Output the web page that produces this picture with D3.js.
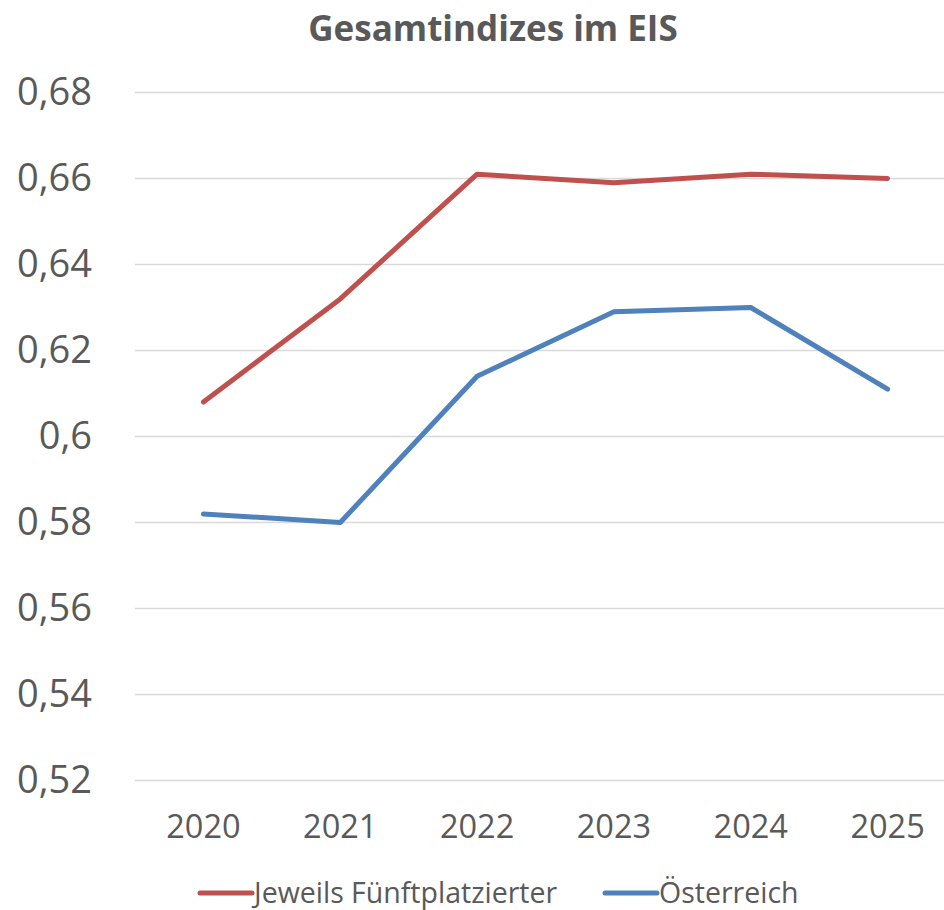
<!DOCTYPE html>
<html>
<head>
<meta charset="utf-8">
<script src="https://cdn.jsdelivr.net/npm/d3@7"></script>
<style>
	body { margin: 0; background: #fff; }
	text { font-family: "Open Sans", sans-serif; fill: #595959; }
</style>
</head>
<body>
<div id="chart"></div>
<script>
// data
var years = ["2020", "2021", "2022", "2023", "2024", "2025"];
var fuenftplatzierter = [0.608, 0.632, 0.661, 0.659, 0.661, 0.660];
var oesterreich = [0.582, 0.580, 0.614, 0.629, 0.630, 0.611];
var yTicks = [0.52, 0.54, 0.56, 0.58, 0.60, 0.62, 0.64, 0.66, 0.68];

var seriesList = [
	{ name: "Jeweils Fünftplatzierter", values: fuenftplatzierter, color: "#C0504D" },
	{ name: "Österreich", values: oesterreich, color: "#4F81BD" }
];

(function() {
	var width = 944, height = 910;

	var svg = d3.select("#chart")
		.append("svg")
		.attr("width", width)
		.attr("height", height)

	var plotLeft = 135, plotRight = 956;

	var x = d3.scaleBand().domain(years).range([plotLeft, plotRight])
	var y = d3.scaleLinear().domain([0.52, 0.68]).range([780.5, 92.5])

	// title
	svg.append("text")
		.attr("x", 493)
		.attr("y", 41)
		.attr("text-anchor", "middle")
		.attr("font-size", 35)
		.attr("font-weight", "bold")
		.text("Gesamtindizes im EIS")

	// gridlines
	svg.append("g")
		.selectAll("line")
		.data(yTicks)
		.enter().append("line")
		.attr("x1", plotLeft)
		.attr("x2", width)
		.attr("y1", function(d) { return y(d) })
		.attr("y2", function(d) { return y(d) })
		.attr("stroke", "#d9d9d9")
		.attr("stroke-width", 1.5)

	// y axis labels, german decimal comma
	var fmt = function(d) {
		return d3.format(".2f")(d).replace(/0$/, "").replace(".", ",")
	}
	var yAxis = d3.axisLeft(y).tickValues(yTicks).tickFormat(fmt).tickSize(0).tickPadding(0)
	var gy = svg.append("g")
		.attr("transform", "translate(92,0)")
		.call(yAxis)
	gy.select(".domain").remove()
	gy.selectAll("text")
		.attr("font-size", 38)
		.attr("font-family", null)
		.attr("fill", null)

	// x axis labels
	var xAxis = d3.axisBottom(x).tickSize(0).tickPadding(0)
	var gx = svg.append("g")
		.attr("transform", "translate(0,815)")
		.call(xAxis)
	gx.select(".domain").remove()
	gx.selectAll("text")
		.attr("font-size", 32.5)
		.attr("font-family", null)
		.attr("fill", null)

	// lines
	var line = d3.line()
		.x(function(d, i) { return x(years[i]) + x.bandwidth() / 2 })
		.y(function(d) { return y(d) })

	svg.selectAll(".series")
		.data(seriesList)
		.enter().append("path")
		.attr("class", "series")
		.attr("d", function(d) { return line(d.values) })
		.attr("fill", "none")
		.attr("stroke", function(d) { return d.color })
		.attr("stroke-width", 5)
		.attr("stroke-linecap", "round")
		.attr("stroke-linejoin", "round")

	// legend
	var legendX = [198, 603];
	var legend = svg.selectAll(".legend")
		.data(seriesList)
		.enter().append("g")
		.attr("class", "legend")
		.attr("transform", function(d, i) { return "translate(" + legendX[i] + ",893)" })

	legend.append("line")
		.attr("x1", 2).attr("x2", 54)
		.attr("stroke", function(d) { return d.color })
		.attr("stroke-width", 5)
		.attr("stroke-linecap", "round")

	legend.append("text")
		.attr("x", 56)
		.attr("y", 10)
		.attr("font-size", 28.5)
		.text(function(d) { return d.name })
})();
</script>
</body>
</html>
